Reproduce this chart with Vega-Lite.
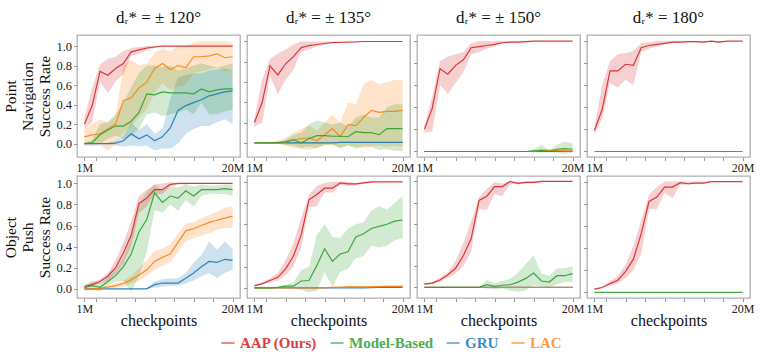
{
"$schema":"https://vega.github.io/schema/vega-lite/v6.json",
"background":"white",
"padding":{"left":3,"top":8,"right":5,"bottom":5},
"config":{
"font":"Liberation Serif",
"view":{"stroke":"#b0b0b0","strokeWidth":1.3},
"axis":{"domain":false,"grid":false,"tickColor":"#999999","tickSize":3.5,"labelFont":"Liberation Serif","labelColor":"#222222","titleFont":"Liberation Serif","titleFontWeight":"normal","titleColor":"#111111"},
"axisX":{"labelFontSize":12,"labelPadding":2},
"axisY":{"labelFontSize":12.5,"labelPadding":2},
"legend":{"labelFont":"Liberation Serif"},
"title":{"font":"Liberation Serif","fontSize":17,"fontWeight":"normal","color":"#111111","offset":8}
},
"data":{"name":"d"},
"datasets":{"d":[
{"p":1,"m":"G","x":1,"y":0,"l":-0.005,"h":0.005},{"p":1,"m":"G","x":2,"y":0,"l":-0.005,"h":0.005},{"p":1,"m":"G","x":3,"y":0,"l":-0.005,"h":0.005},{"p":1,"m":"G","x":4,"y":0,"l":-0.01,"h":0.01},{"p":1,"m":"G","x":5,"y":0.005,"l":-0.02,"h":0.03},{"p":1,"m":"G","x":6,"y":0.03,"l":-0.03,"h":0.08},{"p":1,"m":"G","x":7,"y":0.1,"l":-0.02,"h":0.22},{"p":1,"m":"G","x":8,"y":0.05,"l":-0.03,"h":0.14},{"p":1,"m":"G","x":9,"y":0.09,"l":-0.02,"h":0.2},{"p":1,"m":"G","x":10,"y":0.03,"l":-0.07,"h":0.1},{"p":1,"m":"G","x":11,"y":0.07,"l":-0.05,"h":0.15},{"p":1,"m":"G","x":12,"y":0.16,"l":-0.05,"h":0.45},{"p":1,"m":"G","x":13,"y":0.34,"l":0,"h":0.68},{"p":1,"m":"G","x":14,"y":0.39,"l":0.1,"h":0.7},{"p":1,"m":"G","x":15,"y":0.42,"l":0.15,"h":0.72},{"p":1,"m":"G","x":16,"y":0.45,"l":0.18,"h":0.72},{"p":1,"m":"G","x":17,"y":0.49,"l":0.18,"h":0.75},{"p":1,"m":"G","x":18,"y":0.51,"l":0.22,"h":0.76},{"p":1,"m":"G","x":19,"y":0.53,"l":0.25,"h":0.77},{"p":1,"m":"G","x":20,"y":0.54,"l":0.2,"h":0.75},
{"p":1,"m":"L","x":1,"y":0.07,"l":-0.02,"h":0.15},{"p":1,"m":"L","x":2,"y":0.09,"l":-0.03,"h":0.2},{"p":1,"m":"L","x":3,"y":0.1,"l":-0.02,"h":0.25},{"p":1,"m":"L","x":4,"y":0.15,"l":-0.07,"h":0.22},{"p":1,"m":"L","x":5,"y":0.2,"l":0,"h":0.28},{"p":1,"m":"L","x":6,"y":0.44,"l":0.12,"h":0.8},{"p":1,"m":"L","x":7,"y":0.47,"l":0.18,"h":0.86},{"p":1,"m":"L","x":8,"y":0.57,"l":0.27,"h":0.8},{"p":1,"m":"L","x":9,"y":0.63,"l":0.35,"h":0.82},{"p":1,"m":"L","x":10,"y":0.77,"l":0.52,"h":0.93},{"p":1,"m":"L","x":11,"y":0.82,"l":0.62,"h":0.97},{"p":1,"m":"L","x":12,"y":0.76,"l":0.55,"h":0.95},{"p":1,"m":"L","x":13,"y":0.8,"l":0.58,"h":0.99},{"p":1,"m":"L","x":14,"y":0.78,"l":0.6,"h":1.0},{"p":1,"m":"L","x":15,"y":0.89,"l":0.72,"h":1.04},{"p":1,"m":"L","x":16,"y":0.89,"l":0.74,"h":1.05},{"p":1,"m":"L","x":17,"y":0.9,"l":0.76,"h":1.05},{"p":1,"m":"L","x":18,"y":0.92,"l":0.78,"h":1.05},{"p":1,"m":"L","x":19,"y":0.88,"l":0.74,"h":1.05},{"p":1,"m":"L","x":20,"y":0.89,"l":0.75,"h":1.04},
{"p":1,"m":"M","x":1,"y":0,"l":-0.01,"h":0.01},{"p":1,"m":"M","x":2,"y":0.01,"l":-0.01,"h":0.04},{"p":1,"m":"M","x":3,"y":0.09,"l":0,"h":0.2},{"p":1,"m":"M","x":4,"y":0.14,"l":0.05,"h":0.22},{"p":1,"m":"M","x":5,"y":0.18,"l":0.08,"h":0.3},{"p":1,"m":"M","x":6,"y":0.18,"l":0.05,"h":0.42},{"p":1,"m":"M","x":7,"y":0.23,"l":0.08,"h":0.58},{"p":1,"m":"M","x":8,"y":0.32,"l":0.15,"h":0.72},{"p":1,"m":"M","x":9,"y":0.51,"l":0.3,"h":0.8},{"p":1,"m":"M","x":10,"y":0.5,"l":0.32,"h":0.8},{"p":1,"m":"M","x":11,"y":0.53,"l":0.28,"h":0.78},{"p":1,"m":"M","x":12,"y":0.52,"l":0.3,"h":0.8},{"p":1,"m":"M","x":13,"y":0.52,"l":0.32,"h":0.75},{"p":1,"m":"M","x":14,"y":0.52,"l":0.35,"h":0.77},{"p":1,"m":"M","x":15,"y":0.51,"l":0.3,"h":0.8},{"p":1,"m":"M","x":16,"y":0.56,"l":0.42,"h":0.82},{"p":1,"m":"M","x":17,"y":0.53,"l":0.3,"h":0.8},{"p":1,"m":"M","x":18,"y":0.55,"l":0.3,"h":0.78},{"p":1,"m":"M","x":19,"y":0.56,"l":0.33,"h":0.8},{"p":1,"m":"M","x":20,"y":0.56,"l":0.35,"h":0.82},
{"p":1,"m":"A","x":1,"y":0.2,"l":0.15,"h":0.27},{"p":1,"m":"A","x":2,"y":0.39,"l":0.22,"h":0.57},{"p":1,"m":"A","x":3,"y":0.74,"l":0.63,"h":0.81},{"p":1,"m":"A","x":4,"y":0.7,"l":0.52,"h":0.87},{"p":1,"m":"A","x":5,"y":0.77,"l":0.64,"h":0.89},{"p":1,"m":"A","x":6,"y":0.82,"l":0.71,"h":0.95},{"p":1,"m":"A","x":7,"y":0.94,"l":0.9,"h":0.98},{"p":1,"m":"A","x":8,"y":0.96,"l":0.92,"h":0.99},{"p":1,"m":"A","x":9,"y":0.98,"l":0.96,"h":1},{"p":1,"m":"A","x":10,"y":0.99,"l":0.98,"h":1},{"p":1,"m":"A","x":11,"y":1,"l":0.99,"h":1},{"p":1,"m":"A","x":12,"y":1,"l":0.995,"h":1},{"p":1,"m":"A","x":13,"y":1,"l":0.995,"h":1},{"p":1,"m":"A","x":14,"y":1,"l":1,"h":1},{"p":1,"m":"A","x":15,"y":1,"l":1,"h":1},{"p":1,"m":"A","x":16,"y":1,"l":1,"h":1},{"p":1,"m":"A","x":17,"y":1,"l":1,"h":1},{"p":1,"m":"A","x":18,"y":1,"l":1,"h":1},{"p":1,"m":"A","x":19,"y":1,"l":1,"h":1},{"p":1,"m":"A","x":20,"y":1,"l":1,"h":1},

{"p":2,"m":"G","x":1,"y":0,"l":-0.005,"h":0.005},{"p":2,"m":"G","x":2,"y":0,"l":-0.005,"h":0.005},{"p":2,"m":"G","x":3,"y":0,"l":-0.005,"h":0.005},{"p":2,"m":"G","x":4,"y":0,"l":-0.005,"h":0.005},{"p":2,"m":"G","x":5,"y":0,"l":-0.005,"h":0.005},{"p":2,"m":"G","x":6,"y":0,"l":-0.005,"h":0.005},{"p":2,"m":"G","x":7,"y":0,"l":-0.005,"h":0.005},{"p":2,"m":"G","x":8,"y":0,"l":-0.005,"h":0.005},{"p":2,"m":"G","x":9,"y":0,"l":-0.005,"h":0.005},{"p":2,"m":"G","x":10,"y":0,"l":-0.005,"h":0.005},{"p":2,"m":"G","x":11,"y":0,"l":-0.005,"h":0.005},{"p":2,"m":"G","x":12,"y":0.005,"l":0,"h":0.01},{"p":2,"m":"G","x":13,"y":0.005,"l":0,"h":0.01},{"p":2,"m":"G","x":14,"y":0.005,"l":0,"h":0.01},{"p":2,"m":"G","x":15,"y":0.005,"l":0,"h":0.01},{"p":2,"m":"G","x":16,"y":0.005,"l":0,"h":0.01},{"p":2,"m":"G","x":17,"y":0.005,"l":0,"h":0.01},{"p":2,"m":"G","x":18,"y":0.005,"l":0,"h":0.01},{"p":2,"m":"G","x":19,"y":0.005,"l":0,"h":0.01},{"p":2,"m":"G","x":20,"y":0.005,"l":0,"h":0.01},
{"p":2,"m":"L","x":1,"y":0,"l":0,"h":0},{"p":2,"m":"L","x":2,"y":0,"l":0,"h":0.005},{"p":2,"m":"L","x":3,"y":0,"l":-0.005,"h":0.01},{"p":2,"m":"L","x":4,"y":0.005,"l":-0.01,"h":0.02},{"p":2,"m":"L","x":5,"y":0.01,"l":-0.03,"h":0.05},{"p":2,"m":"L","x":6,"y":0.03,"l":-0.05,"h":0.1},{"p":2,"m":"L","x":7,"y":0.04,"l":-0.06,"h":0.14},{"p":2,"m":"L","x":8,"y":0.05,"l":-0.07,"h":0.17},{"p":2,"m":"L","x":9,"y":0.02,"l":-0.05,"h":0.12},{"p":2,"m":"L","x":10,"y":0.08,"l":-0.03,"h":0.2},{"p":2,"m":"L","x":11,"y":0.14,"l":-0.02,"h":0.28},{"p":2,"m":"L","x":12,"y":0.06,"l":-0.05,"h":0.2},{"p":2,"m":"L","x":13,"y":0.18,"l":-0.03,"h":0.4},{"p":2,"m":"L","x":14,"y":0.17,"l":-0.04,"h":0.38},{"p":2,"m":"L","x":15,"y":0.25,"l":-0.05,"h":0.58},{"p":2,"m":"L","x":16,"y":0.32,"l":-0.04,"h":0.62},{"p":2,"m":"L","x":17,"y":0.3,"l":-0.03,"h":0.58},{"p":2,"m":"L","x":18,"y":0.31,"l":-0.04,"h":0.6},{"p":2,"m":"L","x":19,"y":0.31,"l":-0.03,"h":0.62},{"p":2,"m":"L","x":20,"y":0.32,"l":-0.04,"h":0.62},
{"p":2,"m":"M","x":1,"y":0,"l":0,"h":0},{"p":2,"m":"M","x":2,"y":0,"l":0,"h":0},{"p":2,"m":"M","x":3,"y":0,"l":0,"h":0},{"p":2,"m":"M","x":4,"y":0,"l":-0.005,"h":0.005},{"p":2,"m":"M","x":5,"y":0.01,"l":-0.02,"h":0.03},{"p":2,"m":"M","x":6,"y":0.03,"l":-0.03,"h":0.08},{"p":2,"m":"M","x":7,"y":0,"l":-0.05,"h":0.1},{"p":2,"m":"M","x":8,"y":0.04,"l":-0.04,"h":0.18},{"p":2,"m":"M","x":9,"y":0.07,"l":-0.05,"h":0.22},{"p":2,"m":"M","x":10,"y":0.07,"l":-0.02,"h":0.2},{"p":2,"m":"M","x":11,"y":0.065,"l":-0.02,"h":0.18},{"p":2,"m":"M","x":12,"y":0.065,"l":-0.05,"h":0.2},{"p":2,"m":"M","x":13,"y":0.06,"l":-0.02,"h":0.16},{"p":2,"m":"M","x":14,"y":0.11,"l":-0.06,"h":0.25},{"p":2,"m":"M","x":15,"y":0.1,"l":-0.03,"h":0.28},{"p":2,"m":"M","x":16,"y":0.1,"l":-0.04,"h":0.25},{"p":2,"m":"M","x":17,"y":0.08,"l":-0.07,"h":0.25},{"p":2,"m":"M","x":18,"y":0.14,"l":-0.06,"h":0.35},{"p":2,"m":"M","x":19,"y":0.14,"l":-0.08,"h":0.38},{"p":2,"m":"M","x":20,"y":0.14,"l":-0.08,"h":0.38},
{"p":2,"m":"A","x":1,"y":0.2,"l":0.16,"h":0.24},{"p":2,"m":"A","x":2,"y":0.4,"l":0.2,"h":0.62},{"p":2,"m":"A","x":3,"y":0.76,"l":0.66,"h":0.83},{"p":2,"m":"A","x":4,"y":0.67,"l":0.48,"h":0.88},{"p":2,"m":"A","x":5,"y":0.78,"l":0.62,"h":0.92},{"p":2,"m":"A","x":6,"y":0.85,"l":0.72,"h":0.97},{"p":2,"m":"A","x":7,"y":0.94,"l":0.9,"h":1},{"p":2,"m":"A","x":8,"y":0.96,"l":0.92,"h":1},{"p":2,"m":"A","x":9,"y":0.97,"l":0.95,"h":1},{"p":2,"m":"A","x":10,"y":0.98,"l":0.97,"h":1},{"p":2,"m":"A","x":11,"y":0.99,"l":0.98,"h":1},{"p":2,"m":"A","x":12,"y":0.99,"l":0.985,"h":1},{"p":2,"m":"A","x":13,"y":0.995,"l":0.99,"h":1},{"p":2,"m":"A","x":14,"y":0.995,"l":0.99,"h":1},{"p":2,"m":"A","x":15,"y":1,"l":1,"h":1},{"p":2,"m":"A","x":16,"y":1,"l":1,"h":1},{"p":2,"m":"A","x":17,"y":1,"l":1,"h":1},{"p":2,"m":"A","x":18,"y":1,"l":1,"h":1},{"p":2,"m":"A","x":19,"y":1,"l":1,"h":1},{"p":2,"m":"A","x":20,"y":1,"l":1,"h":1},

{"p":3,"m":"G","x":1,"y":0,"l":0,"h":0.003},{"p":3,"m":"G","x":2,"y":0,"l":0,"h":0.003},{"p":3,"m":"G","x":3,"y":0,"l":0,"h":0.003},{"p":3,"m":"G","x":4,"y":0,"l":0,"h":0.003},{"p":3,"m":"G","x":5,"y":0,"l":0,"h":0.003},{"p":3,"m":"G","x":6,"y":0,"l":0,"h":0.003},{"p":3,"m":"G","x":7,"y":0,"l":0,"h":0.003},{"p":3,"m":"G","x":8,"y":0,"l":0,"h":0.003},{"p":3,"m":"G","x":9,"y":0,"l":0,"h":0.003},{"p":3,"m":"G","x":10,"y":0,"l":0,"h":0.003},{"p":3,"m":"G","x":11,"y":0,"l":0,"h":0.003},{"p":3,"m":"G","x":12,"y":0,"l":0,"h":0.003},{"p":3,"m":"G","x":13,"y":0,"l":0,"h":0.003},{"p":3,"m":"G","x":14,"y":0,"l":0,"h":0.003},{"p":3,"m":"G","x":15,"y":0,"l":0,"h":0.003},{"p":3,"m":"G","x":16,"y":0,"l":0,"h":0.003},{"p":3,"m":"G","x":17,"y":0,"l":0,"h":0.003},{"p":3,"m":"G","x":18,"y":0,"l":0,"h":0.003},{"p":3,"m":"G","x":19,"y":0,"l":0,"h":0.003},{"p":3,"m":"G","x":20,"y":0,"l":0,"h":0.003},
{"p":3,"m":"L","x":1,"y":0,"l":0,"h":0.002},{"p":3,"m":"L","x":2,"y":0,"l":0,"h":0.002},{"p":3,"m":"L","x":3,"y":0,"l":0,"h":0.002},{"p":3,"m":"L","x":4,"y":0,"l":0,"h":0.002},{"p":3,"m":"L","x":5,"y":0,"l":0,"h":0.002},{"p":3,"m":"L","x":6,"y":0,"l":0,"h":0.002},{"p":3,"m":"L","x":7,"y":0,"l":0,"h":0.002},{"p":3,"m":"L","x":8,"y":0,"l":0,"h":0.002},{"p":3,"m":"L","x":9,"y":0,"l":0,"h":0.002},{"p":3,"m":"L","x":10,"y":0,"l":0,"h":0.002},{"p":3,"m":"L","x":11,"y":0,"l":0,"h":0.002},{"p":3,"m":"L","x":12,"y":0,"l":0,"h":0.002},{"p":3,"m":"L","x":13,"y":0,"l":0,"h":0.002},{"p":3,"m":"L","x":14,"y":0,"l":0,"h":0.002},{"p":3,"m":"L","x":15,"y":0,"l":0,"h":0.01},{"p":3,"m":"L","x":16,"y":0.01,"l":-0.005,"h":0.02},{"p":3,"m":"L","x":17,"y":0.01,"l":-0.005,"h":0.02},{"p":3,"m":"L","x":18,"y":0.01,"l":-0.005,"h":0.02},{"p":3,"m":"L","x":19,"y":0.005,"l":-0.005,"h":0.015},{"p":3,"m":"L","x":20,"y":0.005,"l":-0.005,"h":0.015},
{"p":3,"m":"M","x":1,"y":0,"l":0,"h":0},{"p":3,"m":"M","x":2,"y":0,"l":0,"h":0},{"p":3,"m":"M","x":3,"y":0,"l":0,"h":0},{"p":3,"m":"M","x":4,"y":0,"l":0,"h":0},{"p":3,"m":"M","x":5,"y":0,"l":0,"h":0},{"p":3,"m":"M","x":6,"y":0,"l":0,"h":0},{"p":3,"m":"M","x":7,"y":0,"l":0,"h":0},{"p":3,"m":"M","x":8,"y":0,"l":0,"h":0},{"p":3,"m":"M","x":9,"y":0,"l":0,"h":0},{"p":3,"m":"M","x":10,"y":0,"l":0,"h":0},{"p":3,"m":"M","x":11,"y":0,"l":0,"h":0},{"p":3,"m":"M","x":12,"y":0,"l":0,"h":0},{"p":3,"m":"M","x":13,"y":0,"l":0,"h":0},{"p":3,"m":"M","x":14,"y":0,"l":0,"h":0},{"p":3,"m":"M","x":15,"y":0.005,"l":-0.01,"h":0.02},{"p":3,"m":"M","x":16,"y":0.01,"l":-0.01,"h":0.06},{"p":3,"m":"M","x":17,"y":0,"l":-0.01,"h":0.01},{"p":3,"m":"M","x":18,"y":0.02,"l":-0.01,"h":0.06},{"p":3,"m":"M","x":19,"y":0.025,"l":-0.02,"h":0.09},{"p":3,"m":"M","x":20,"y":0.02,"l":-0.01,"h":0.07},
{"p":3,"m":"A","x":1,"y":0.2,"l":0.17,"h":0.23},{"p":3,"m":"A","x":2,"y":0.39,"l":0.18,"h":0.5},{"p":3,"m":"A","x":3,"y":0.75,"l":0.6,"h":0.82},{"p":3,"m":"A","x":4,"y":0.7,"l":0.52,"h":0.86},{"p":3,"m":"A","x":5,"y":0.78,"l":0.62,"h":0.88},{"p":3,"m":"A","x":6,"y":0.83,"l":0.72,"h":0.9},{"p":3,"m":"A","x":7,"y":0.94,"l":0.88,"h":0.98},{"p":3,"m":"A","x":8,"y":0.95,"l":0.9,"h":1},{"p":3,"m":"A","x":9,"y":0.96,"l":0.93,"h":1},{"p":3,"m":"A","x":10,"y":0.97,"l":0.95,"h":1},{"p":3,"m":"A","x":11,"y":0.985,"l":0.98,"h":1},{"p":3,"m":"A","x":12,"y":0.99,"l":0.985,"h":1},{"p":3,"m":"A","x":13,"y":0.99,"l":0.99,"h":1},{"p":3,"m":"A","x":14,"y":0.995,"l":0.99,"h":1},{"p":3,"m":"A","x":15,"y":1,"l":1,"h":1},{"p":3,"m":"A","x":16,"y":1,"l":0.995,"h":1},{"p":3,"m":"A","x":17,"y":1,"l":1,"h":1},{"p":3,"m":"A","x":18,"y":1,"l":1,"h":1},{"p":3,"m":"A","x":19,"y":1,"l":1,"h":1},{"p":3,"m":"A","x":20,"y":1,"l":1,"h":1},

{"p":4,"m":"M","x":1,"y":0,"l":0,"h":0},{"p":4,"m":"M","x":2,"y":0,"l":0,"h":0},{"p":4,"m":"M","x":3,"y":0,"l":0,"h":0},{"p":4,"m":"M","x":4,"y":0,"l":0,"h":0},{"p":4,"m":"M","x":5,"y":0,"l":0,"h":0},{"p":4,"m":"M","x":6,"y":0,"l":0,"h":0},{"p":4,"m":"M","x":7,"y":0,"l":0,"h":0},{"p":4,"m":"M","x":8,"y":0,"l":0,"h":0},{"p":4,"m":"M","x":9,"y":0,"l":0,"h":0},{"p":4,"m":"M","x":10,"y":0,"l":0,"h":0},{"p":4,"m":"M","x":11,"y":0,"l":0,"h":0},{"p":4,"m":"M","x":12,"y":0,"l":0,"h":0},{"p":4,"m":"M","x":13,"y":0,"l":0,"h":0},{"p":4,"m":"M","x":14,"y":0,"l":0,"h":0},{"p":4,"m":"M","x":15,"y":0,"l":0,"h":0},{"p":4,"m":"M","x":16,"y":0,"l":0,"h":0},{"p":4,"m":"M","x":17,"y":0,"l":0,"h":0},{"p":4,"m":"M","x":18,"y":0,"l":0,"h":0},{"p":4,"m":"M","x":19,"y":0,"l":0,"h":0},{"p":4,"m":"M","x":20,"y":0,"l":0,"h":0},
{"p":4,"m":"A","x":1,"y":0.19,"l":0.15,"h":0.22},{"p":4,"m":"A","x":2,"y":0.38,"l":0.3,"h":0.6},{"p":4,"m":"A","x":3,"y":0.73,"l":0.62,"h":0.82},{"p":4,"m":"A","x":4,"y":0.73,"l":0.58,"h":0.88},{"p":4,"m":"A","x":5,"y":0.79,"l":0.65,"h":0.89},{"p":4,"m":"A","x":6,"y":0.78,"l":0.6,"h":0.91},{"p":4,"m":"A","x":7,"y":0.94,"l":0.9,"h":0.98},{"p":4,"m":"A","x":8,"y":0.96,"l":0.93,"h":0.99},{"p":4,"m":"A","x":9,"y":0.97,"l":0.95,"h":1},{"p":4,"m":"A","x":10,"y":0.98,"l":0.97,"h":1},{"p":4,"m":"A","x":11,"y":0.99,"l":0.98,"h":1},{"p":4,"m":"A","x":12,"y":0.99,"l":0.99,"h":1},{"p":4,"m":"A","x":13,"y":0.995,"l":0.99,"h":1},{"p":4,"m":"A","x":14,"y":0.995,"l":0.99,"h":1},{"p":4,"m":"A","x":15,"y":0.99,"l":0.985,"h":1},{"p":4,"m":"A","x":16,"y":1,"l":0.995,"h":1},{"p":4,"m":"A","x":17,"y":0.99,"l":0.985,"h":1},{"p":4,"m":"A","x":18,"y":1,"l":1,"h":1},{"p":4,"m":"A","x":19,"y":1,"l":1,"h":1},{"p":4,"m":"A","x":20,"y":1,"l":1,"h":1},

{"p":5,"m":"G","x":1,"y":0,"l":0,"h":0},{"p":5,"m":"G","x":2,"y":0,"l":0,"h":0},{"p":5,"m":"G","x":3,"y":0,"l":0,"h":0},{"p":5,"m":"G","x":4,"y":0,"l":0,"h":0},{"p":5,"m":"G","x":5,"y":0,"l":0,"h":0},{"p":5,"m":"G","x":6,"y":0,"l":0,"h":0},{"p":5,"m":"G","x":7,"y":0,"l":0,"h":0},{"p":5,"m":"G","x":8,"y":0,"l":0,"h":0},{"p":5,"m":"G","x":9,"y":0,"l":0,"h":0.01},{"p":5,"m":"G","x":10,"y":0.04,"l":0.01,"h":0.07},{"p":5,"m":"G","x":11,"y":0.055,"l":0.02,"h":0.09},{"p":5,"m":"G","x":12,"y":0.055,"l":0.03,"h":0.1},{"p":5,"m":"G","x":13,"y":0.055,"l":0.03,"h":0.1},{"p":5,"m":"G","x":14,"y":0.1,"l":0.05,"h":0.15},{"p":5,"m":"G","x":15,"y":0.15,"l":0.08,"h":0.25},{"p":5,"m":"G","x":16,"y":0.21,"l":0.12,"h":0.32},{"p":5,"m":"G","x":17,"y":0.26,"l":0.15,"h":0.45},{"p":5,"m":"G","x":18,"y":0.25,"l":0.1,"h":0.37},{"p":5,"m":"G","x":19,"y":0.28,"l":0.15,"h":0.45},{"p":5,"m":"G","x":20,"y":0.27,"l":0.18,"h":0.38},
{"p":5,"m":"L","x":1,"y":0,"l":0,"h":0.005},{"p":5,"m":"L","x":2,"y":0,"l":0,"h":0.005},{"p":5,"m":"L","x":3,"y":0.005,"l":0,"h":0.01},{"p":5,"m":"L","x":4,"y":0.016,"l":0.005,"h":0.03},{"p":5,"m":"L","x":5,"y":0.03,"l":0.01,"h":0.05},{"p":5,"m":"L","x":6,"y":0.05,"l":0.02,"h":0.08},{"p":5,"m":"L","x":7,"y":0.085,"l":0.05,"h":0.12},{"p":5,"m":"L","x":8,"y":0.13,"l":0.08,"h":0.2},{"p":5,"m":"L","x":9,"y":0.18,"l":0.12,"h":0.27},{"p":5,"m":"L","x":10,"y":0.26,"l":0.18,"h":0.36},{"p":5,"m":"L","x":11,"y":0.3,"l":0.22,"h":0.38},{"p":5,"m":"L","x":12,"y":0.33,"l":0.25,"h":0.42},{"p":5,"m":"L","x":13,"y":0.44,"l":0.35,"h":0.52},{"p":5,"m":"L","x":14,"y":0.55,"l":0.45,"h":0.62},{"p":5,"m":"L","x":15,"y":0.57,"l":0.48,"h":0.63},{"p":5,"m":"L","x":16,"y":0.6,"l":0.5,"h":0.67},{"p":5,"m":"L","x":17,"y":0.63,"l":0.53,"h":0.7},{"p":5,"m":"L","x":18,"y":0.65,"l":0.56,"h":0.73},{"p":5,"m":"L","x":19,"y":0.67,"l":0.58,"h":0.77},{"p":5,"m":"L","x":20,"y":0.69,"l":0.58,"h":0.78},
{"p":5,"m":"M","x":1,"y":0.01,"l":-0.02,"h":0.03},{"p":5,"m":"M","x":2,"y":0.03,"l":-0.01,"h":0.08},{"p":5,"m":"M","x":3,"y":0.015,"l":-0.02,"h":0.05},{"p":5,"m":"M","x":4,"y":0.07,"l":0.03,"h":0.11},{"p":5,"m":"M","x":5,"y":0.125,"l":0.07,"h":0.18},{"p":5,"m":"M","x":6,"y":0.21,"l":0.08,"h":0.3},{"p":5,"m":"M","x":7,"y":0.33,"l":-0.03,"h":0.5},{"p":5,"m":"M","x":8,"y":0.54,"l":0.12,"h":0.8},{"p":5,"m":"M","x":9,"y":0.66,"l":0.35,"h":0.92},{"p":5,"m":"M","x":10,"y":0.91,"l":0.75,"h":0.99},{"p":5,"m":"M","x":11,"y":0.82,"l":0.72,"h":0.93},{"p":5,"m":"M","x":12,"y":0.88,"l":0.8,"h":0.97},{"p":5,"m":"M","x":13,"y":0.86,"l":0.74,"h":0.96},{"p":5,"m":"M","x":14,"y":0.93,"l":0.84,"h":0.99},{"p":5,"m":"M","x":15,"y":0.88,"l":0.78,"h":0.97},{"p":5,"m":"M","x":16,"y":0.94,"l":0.88,"h":0.99},{"p":5,"m":"M","x":17,"y":0.94,"l":0.9,"h":0.98},{"p":5,"m":"M","x":18,"y":0.94,"l":0.9,"h":0.98},{"p":5,"m":"M","x":19,"y":0.95,"l":0.9,"h":0.99},{"p":5,"m":"M","x":20,"y":0.94,"l":0.88,"h":0.99},
{"p":5,"m":"A","x":1,"y":0.022,"l":0.015,"h":0.035},{"p":5,"m":"A","x":2,"y":0.04,"l":0.03,"h":0.06},{"p":5,"m":"A","x":3,"y":0.07,"l":0.05,"h":0.09},{"p":5,"m":"A","x":4,"y":0.12,"l":0.08,"h":0.15},{"p":5,"m":"A","x":5,"y":0.2,"l":0.14,"h":0.27},{"p":5,"m":"A","x":6,"y":0.34,"l":0.24,"h":0.44},{"p":5,"m":"A","x":7,"y":0.51,"l":0.4,"h":0.64},{"p":5,"m":"A","x":8,"y":0.81,"l":0.72,"h":0.88},{"p":5,"m":"A","x":9,"y":0.86,"l":0.78,"h":0.94},{"p":5,"m":"A","x":10,"y":0.94,"l":0.9,"h":0.99},{"p":5,"m":"A","x":11,"y":0.94,"l":0.9,"h":1},{"p":5,"m":"A","x":12,"y":0.99,"l":0.97,"h":1.01},{"p":5,"m":"A","x":13,"y":1,"l":0.99,"h":1},{"p":5,"m":"A","x":14,"y":1,"l":0.99,"h":1},{"p":5,"m":"A","x":15,"y":1,"l":1,"h":1},{"p":5,"m":"A","x":16,"y":1,"l":1,"h":1},{"p":5,"m":"A","x":17,"y":1,"l":1,"h":1},{"p":5,"m":"A","x":18,"y":1,"l":1,"h":1},{"p":5,"m":"A","x":19,"y":1,"l":1,"h":1},{"p":5,"m":"A","x":20,"y":1,"l":1,"h":1},

{"p":6,"m":"G","x":1,"y":0,"l":0,"h":0.003},{"p":6,"m":"G","x":2,"y":0,"l":0,"h":0.003},{"p":6,"m":"G","x":3,"y":0,"l":0,"h":0.003},{"p":6,"m":"G","x":4,"y":0,"l":0,"h":0.003},{"p":6,"m":"G","x":5,"y":0,"l":0,"h":0.003},{"p":6,"m":"G","x":6,"y":0,"l":0,"h":0.003},{"p":6,"m":"G","x":7,"y":0,"l":0,"h":0.003},{"p":6,"m":"G","x":8,"y":0,"l":0,"h":0.003},{"p":6,"m":"G","x":9,"y":0,"l":0,"h":0.003},{"p":6,"m":"G","x":10,"y":0,"l":0,"h":0.003},{"p":6,"m":"G","x":11,"y":0,"l":0,"h":0.003},{"p":6,"m":"G","x":12,"y":0,"l":0,"h":0.003},{"p":6,"m":"G","x":13,"y":0,"l":0,"h":0.003},{"p":6,"m":"G","x":14,"y":0,"l":0,"h":0.003},{"p":6,"m":"G","x":15,"y":0,"l":0,"h":0.003},{"p":6,"m":"G","x":16,"y":0.003,"l":0,"h":0.008},{"p":6,"m":"G","x":17,"y":0.005,"l":0,"h":0.01},{"p":6,"m":"G","x":18,"y":0.005,"l":0,"h":0.01},{"p":6,"m":"G","x":19,"y":0.005,"l":0,"h":0.01},{"p":6,"m":"G","x":20,"y":0.005,"l":0,"h":0.01},
{"p":6,"m":"L","x":1,"y":0,"l":0,"h":0.003},{"p":6,"m":"L","x":2,"y":0,"l":0,"h":0.003},{"p":6,"m":"L","x":3,"y":0,"l":0,"h":0.003},{"p":6,"m":"L","x":4,"y":0,"l":0,"h":0.003},{"p":6,"m":"L","x":5,"y":0,"l":0,"h":0.003},{"p":6,"m":"L","x":6,"y":0,"l":0,"h":0.003},{"p":6,"m":"L","x":7,"y":0,"l":0,"h":0.003},{"p":6,"m":"L","x":8,"y":0,"l":0,"h":0.003},{"p":6,"m":"L","x":9,"y":0,"l":0,"h":0.003},{"p":6,"m":"L","x":10,"y":0,"l":0,"h":0.003},{"p":6,"m":"L","x":11,"y":0.005,"l":0,"h":0.015},{"p":6,"m":"L","x":12,"y":0.005,"l":0,"h":0.015},{"p":6,"m":"L","x":13,"y":0.01,"l":0.005,"h":0.02},{"p":6,"m":"L","x":14,"y":0.01,"l":0.005,"h":0.02},{"p":6,"m":"L","x":15,"y":0.01,"l":0.005,"h":0.02},{"p":6,"m":"L","x":16,"y":0.01,"l":0.005,"h":0.02},{"p":6,"m":"L","x":17,"y":0.012,"l":0.007,"h":0.022},{"p":6,"m":"L","x":18,"y":0.015,"l":0.01,"h":0.025},{"p":6,"m":"L","x":19,"y":0.015,"l":0.01,"h":0.025},{"p":6,"m":"L","x":20,"y":0.015,"l":0.01,"h":0.025},
{"p":6,"m":"M","x":1,"y":0,"l":0,"h":0},{"p":6,"m":"M","x":2,"y":0,"l":0,"h":0},{"p":6,"m":"M","x":3,"y":0,"l":0,"h":0},{"p":6,"m":"M","x":4,"y":0.005,"l":0,"h":0.01},{"p":6,"m":"M","x":5,"y":0.016,"l":0,"h":0.03},{"p":6,"m":"M","x":6,"y":0.016,"l":0,"h":0.05},{"p":6,"m":"M","x":7,"y":0.065,"l":-0.02,"h":0.17},{"p":6,"m":"M","x":8,"y":0.07,"l":-0.04,"h":0.2},{"p":6,"m":"M","x":9,"y":0.21,"l":-0.03,"h":0.5},{"p":6,"m":"M","x":10,"y":0.37,"l":0.15,"h":0.6},{"p":6,"m":"M","x":11,"y":0.25,"l":0.01,"h":0.48},{"p":6,"m":"M","x":12,"y":0.32,"l":0.15,"h":0.47},{"p":6,"m":"M","x":13,"y":0.34,"l":0.18,"h":0.56},{"p":6,"m":"M","x":14,"y":0.48,"l":0.28,"h":0.6},{"p":6,"m":"M","x":15,"y":0.51,"l":0.3,"h":0.62},{"p":6,"m":"M","x":16,"y":0.56,"l":0.4,"h":0.73},{"p":6,"m":"M","x":17,"y":0.58,"l":0.38,"h":0.77},{"p":6,"m":"M","x":18,"y":0.6,"l":0.4,"h":0.74},{"p":6,"m":"M","x":19,"y":0.63,"l":0.45,"h":0.8},{"p":6,"m":"M","x":20,"y":0.64,"l":0.47,"h":0.87},
{"p":6,"m":"A","x":1,"y":0.02,"l":0.015,"h":0.03},{"p":6,"m":"A","x":2,"y":0.04,"l":0.03,"h":0.05},{"p":6,"m":"A","x":3,"y":0.07,"l":0.05,"h":0.09},{"p":6,"m":"A","x":4,"y":0.1,"l":0.07,"h":0.14},{"p":6,"m":"A","x":5,"y":0.18,"l":0.12,"h":0.26},{"p":6,"m":"A","x":6,"y":0.3,"l":0.2,"h":0.42},{"p":6,"m":"A","x":7,"y":0.5,"l":0.38,"h":0.66},{"p":6,"m":"A","x":8,"y":0.83,"l":0.76,"h":0.88},{"p":6,"m":"A","x":9,"y":0.88,"l":0.77,"h":0.96},{"p":6,"m":"A","x":10,"y":0.94,"l":0.9,"h":0.99},{"p":6,"m":"A","x":11,"y":0.94,"l":0.9,"h":1},{"p":6,"m":"A","x":12,"y":0.99,"l":0.97,"h":1},{"p":6,"m":"A","x":13,"y":0.98,"l":0.96,"h":1},{"p":6,"m":"A","x":14,"y":0.98,"l":0.97,"h":0.99},{"p":6,"m":"A","x":15,"y":0.99,"l":0.98,"h":1},{"p":6,"m":"A","x":16,"y":1,"l":0.99,"h":1},{"p":6,"m":"A","x":17,"y":1,"l":1,"h":1},{"p":6,"m":"A","x":18,"y":1,"l":1,"h":1},{"p":6,"m":"A","x":19,"y":1,"l":1,"h":1},{"p":6,"m":"A","x":20,"y":1,"l":1,"h":1},

{"p":7,"m":"G","x":1,"y":0,"l":0,"h":0},{"p":7,"m":"G","x":2,"y":0,"l":0,"h":0},{"p":7,"m":"G","x":3,"y":0,"l":0,"h":0},{"p":7,"m":"G","x":4,"y":0,"l":0,"h":0},{"p":7,"m":"G","x":5,"y":0,"l":0,"h":0},{"p":7,"m":"G","x":6,"y":0,"l":0,"h":0},{"p":7,"m":"G","x":7,"y":0,"l":0,"h":0},{"p":7,"m":"G","x":8,"y":0,"l":0,"h":0},{"p":7,"m":"G","x":9,"y":0,"l":0,"h":0},{"p":7,"m":"G","x":10,"y":0,"l":0,"h":0},{"p":7,"m":"G","x":11,"y":0,"l":0,"h":0},{"p":7,"m":"G","x":12,"y":0,"l":0,"h":0},{"p":7,"m":"G","x":13,"y":0,"l":0,"h":0},{"p":7,"m":"G","x":14,"y":0,"l":0,"h":0},{"p":7,"m":"G","x":15,"y":0,"l":0,"h":0},{"p":7,"m":"G","x":16,"y":0,"l":0,"h":0},{"p":7,"m":"G","x":17,"y":0,"l":0,"h":0},{"p":7,"m":"G","x":18,"y":0,"l":0,"h":0},{"p":7,"m":"G","x":19,"y":0,"l":0,"h":0},{"p":7,"m":"G","x":20,"y":0,"l":0,"h":0},
{"p":7,"m":"L","x":1,"y":0,"l":0,"h":0.004},{"p":7,"m":"L","x":2,"y":0,"l":0,"h":0.004},{"p":7,"m":"L","x":3,"y":0,"l":0,"h":0.004},{"p":7,"m":"L","x":4,"y":0,"l":0,"h":0.004},{"p":7,"m":"L","x":5,"y":0,"l":0,"h":0.004},{"p":7,"m":"L","x":6,"y":0,"l":0,"h":0.004},{"p":7,"m":"L","x":7,"y":0,"l":0,"h":0.004},{"p":7,"m":"L","x":8,"y":0,"l":0,"h":0.004},{"p":7,"m":"L","x":9,"y":0,"l":0,"h":0.004},{"p":7,"m":"L","x":10,"y":0,"l":0,"h":0.004},{"p":7,"m":"L","x":11,"y":0,"l":0,"h":0.004},{"p":7,"m":"L","x":12,"y":0,"l":0,"h":0.004},{"p":7,"m":"L","x":13,"y":0,"l":0,"h":0.004},{"p":7,"m":"L","x":14,"y":0,"l":0,"h":0.004},{"p":7,"m":"L","x":15,"y":0,"l":0,"h":0.004},{"p":7,"m":"L","x":16,"y":0,"l":0,"h":0.004},{"p":7,"m":"L","x":17,"y":0,"l":0,"h":0.004},{"p":7,"m":"L","x":18,"y":0,"l":0,"h":0.004},{"p":7,"m":"L","x":19,"y":0,"l":0,"h":0.004},{"p":7,"m":"L","x":20,"y":0,"l":0,"h":0.004},
{"p":7,"m":"M","x":1,"y":0,"l":0,"h":0},{"p":7,"m":"M","x":2,"y":0,"l":0,"h":0},{"p":7,"m":"M","x":3,"y":0,"l":0,"h":0},{"p":7,"m":"M","x":4,"y":0,"l":0,"h":0},{"p":7,"m":"M","x":5,"y":0,"l":0,"h":0},{"p":7,"m":"M","x":6,"y":0,"l":0,"h":0},{"p":7,"m":"M","x":7,"y":0,"l":0,"h":0},{"p":7,"m":"M","x":8,"y":0,"l":0,"h":0},{"p":7,"m":"M","x":9,"y":0.025,"l":-0.01,"h":0.07},{"p":7,"m":"M","x":10,"y":0.01,"l":-0.02,"h":0.04},{"p":7,"m":"M","x":11,"y":0.02,"l":-0.01,"h":0.06},{"p":7,"m":"M","x":12,"y":0.025,"l":-0.03,"h":0.08},{"p":7,"m":"M","x":13,"y":0.05,"l":-0.04,"h":0.14},{"p":7,"m":"M","x":14,"y":0.085,"l":-0.03,"h":0.22},{"p":7,"m":"M","x":15,"y":0.135,"l":0.02,"h":0.3},{"p":7,"m":"M","x":16,"y":0.06,"l":0.01,"h":0.13},{"p":7,"m":"M","x":17,"y":0.05,"l":0,"h":0.11},{"p":7,"m":"M","x":18,"y":0.11,"l":0.03,"h":0.18},{"p":7,"m":"M","x":19,"y":0.11,"l":0.05,"h":0.18},{"p":7,"m":"M","x":20,"y":0.13,"l":0.05,"h":0.2},
{"p":7,"m":"A","x":1,"y":0.03,"l":0.02,"h":0.04},{"p":7,"m":"A","x":2,"y":0.04,"l":0.03,"h":0.05},{"p":7,"m":"A","x":3,"y":0.07,"l":0.05,"h":0.09},{"p":7,"m":"A","x":4,"y":0.12,"l":0.09,"h":0.14},{"p":7,"m":"A","x":5,"y":0.18,"l":0.13,"h":0.25},{"p":7,"m":"A","x":6,"y":0.3,"l":0.2,"h":0.42},{"p":7,"m":"A","x":7,"y":0.46,"l":0.34,"h":0.62},{"p":7,"m":"A","x":8,"y":0.82,"l":0.74,"h":0.85},{"p":7,"m":"A","x":9,"y":0.86,"l":0.73,"h":0.93},{"p":7,"m":"A","x":10,"y":0.95,"l":0.88,"h":0.99},{"p":7,"m":"A","x":11,"y":0.95,"l":0.86,"h":0.98},{"p":7,"m":"A","x":12,"y":1,"l":0.98,"h":1},{"p":7,"m":"A","x":13,"y":0.98,"l":0.97,"h":0.99},{"p":7,"m":"A","x":14,"y":0.99,"l":0.98,"h":1},{"p":7,"m":"A","x":15,"y":0.99,"l":0.98,"h":1},{"p":7,"m":"A","x":16,"y":1,"l":0.99,"h":1},{"p":7,"m":"A","x":17,"y":1,"l":1,"h":1},{"p":7,"m":"A","x":18,"y":1,"l":1,"h":1},{"p":7,"m":"A","x":19,"y":1,"l":1,"h":1},{"p":7,"m":"A","x":20,"y":1,"l":1,"h":1},

{"p":8,"m":"M","x":1,"y":0,"l":0,"h":0},{"p":8,"m":"M","x":2,"y":0,"l":0,"h":0},{"p":8,"m":"M","x":3,"y":0,"l":0,"h":0},{"p":8,"m":"M","x":4,"y":0,"l":0,"h":0},{"p":8,"m":"M","x":5,"y":0,"l":0,"h":0},{"p":8,"m":"M","x":6,"y":0,"l":0,"h":0},{"p":8,"m":"M","x":7,"y":0,"l":0,"h":0},{"p":8,"m":"M","x":8,"y":0,"l":0,"h":0},{"p":8,"m":"M","x":9,"y":0,"l":0,"h":0},{"p":8,"m":"M","x":10,"y":0,"l":0,"h":0},{"p":8,"m":"M","x":11,"y":0,"l":0,"h":0},{"p":8,"m":"M","x":12,"y":0,"l":0,"h":0},{"p":8,"m":"M","x":13,"y":0,"l":0,"h":0},{"p":8,"m":"M","x":14,"y":0,"l":0,"h":0},{"p":8,"m":"M","x":15,"y":0,"l":0,"h":0},{"p":8,"m":"M","x":16,"y":0,"l":0,"h":0},{"p":8,"m":"M","x":17,"y":0,"l":0,"h":0},{"p":8,"m":"M","x":18,"y":0,"l":0,"h":0},{"p":8,"m":"M","x":19,"y":0,"l":0,"h":0},{"p":8,"m":"M","x":20,"y":0,"l":0,"h":0},
{"p":8,"m":"A","x":1,"y":0.03,"l":0.025,"h":0.035},{"p":8,"m":"A","x":2,"y":0.045,"l":0.04,"h":0.05},{"p":8,"m":"A","x":3,"y":0.08,"l":0.06,"h":0.1},{"p":8,"m":"A","x":4,"y":0.11,"l":0.08,"h":0.15},{"p":8,"m":"A","x":5,"y":0.19,"l":0.13,"h":0.25},{"p":8,"m":"A","x":6,"y":0.3,"l":0.2,"h":0.42},{"p":8,"m":"A","x":7,"y":0.53,"l":0.35,"h":0.65},{"p":8,"m":"A","x":8,"y":0.82,"l":0.75,"h":0.88},{"p":8,"m":"A","x":9,"y":0.86,"l":0.75,"h":0.95},{"p":8,"m":"A","x":10,"y":0.95,"l":0.9,"h":1},{"p":8,"m":"A","x":11,"y":0.95,"l":0.85,"h":1},{"p":8,"m":"A","x":12,"y":0.99,"l":0.97,"h":1},{"p":8,"m":"A","x":13,"y":0.98,"l":0.97,"h":1},{"p":8,"m":"A","x":14,"y":0.985,"l":0.98,"h":1},{"p":8,"m":"A","x":15,"y":0.985,"l":0.98,"h":1},{"p":8,"m":"A","x":16,"y":1,"l":1,"h":1},{"p":8,"m":"A","x":17,"y":1,"l":1,"h":1},{"p":8,"m":"A","x":18,"y":1,"l":1,"h":1},{"p":8,"m":"A","x":19,"y":1,"l":1,"h":1},{"p":8,"m":"A","x":20,"y":1,"l":1,"h":1}
]},
"bounds":"flush",
"columns":4,
"spacing":{"row":19,"column":7},
"concat":[
{"width":163,"height":122,"title":{"text":"dᵣ* = ± 120°","font":"Liberation Serif"},"transform":[{"filter":"datum.p==1"}],
"encoding":{"x":{"field":"x","type":"quantitative","scale":{"domain":[0.05,20.95],"nice":false,"zero":false},"axis":{"values":[1,2.5,5,7.5,10,12.5,15,17.5,20],"labelExpr":"datum.value==1?'1M':datum.value==20?'20M':''","labelOverlap":false,"labelFont":"Liberation Serif","title":null}},
"color":{"field":"m","type":"nominal","scale":{"domain":["A","M","G","L"],"range":["#d62728","#2ca02c","#1f77b4","#ff7f0e"]},"legend":{"orient":"none","legendX":143,"legendY":300,"direction":"horizontal","title":null,"symbolType":"stroke","symbolStrokeWidth":2,"symbolSize":170,"symbolOpacity":0.55,"labelFont":"Liberation Serif","labelFontSize":15,"labelFontWeight":"bold","labelColor":{"expr":"datum.value=='A'?'#dd3e3f':datum.value=='M'?'#4cae4c':datum.value=='G'?'#3d8cc4':'#ff9a45'"},"labelExpr":"datum.value=='A'?'AAP (Ours)':datum.value=='M'?'Model-Based':datum.value=='G'?'GRU':'LAC'","columnPadding":8,"labelOffset":4}}},
"layer":[
{"mark":{"type":"area","opacity":0.22},"encoding":{"y":{"field":"l","type":"quantitative","scale":{"domain":[-0.137,1.113],"nice":false,"zero":false},"axis":{"values":[0,0.2,0.4,0.6,0.8,1],"format":".1f","labelFont":"Liberation Serif","title":["Point","Navigation","Success Rate"],"titleFont":"Liberation Serif","titleFontSize":15.5,"titleLineHeight":17,"titlePadding":3}},"y2":{"field":"h"}}},
{"mark":{"type":"line","strokeWidth":1.2,"opacity":0.9},"encoding":{"y":{"field":"y","type":"quantitative","scale":{"domain":[-0.137,1.113],"nice":false,"zero":false},"axis":{"values":[0,0.2,0.4,0.6,0.8,1],"format":".1f","labelFont":"Liberation Serif","title":["Point","Navigation","Success Rate"],"titleFont":"Liberation Serif","titleFontSize":15.5,"titleLineHeight":17,"titlePadding":3}}}}
]},
{"width":163,"height":122,"title":{"text":"dᵣ* = ± 135°","font":"Liberation Serif"},"transform":[{"filter":"datum.p==2"}],
"encoding":{"x":{"field":"x","type":"quantitative","scale":{"domain":[0.05,20.95],"nice":false,"zero":false},"axis":{"values":[1,2.5,5,7.5,10,12.5,15,17.5,20],"labelExpr":"datum.value==1?'1M':datum.value==20?'20M':''","labelOverlap":false,"labelFont":"Liberation Serif","title":null}},
"color":{"field":"m","type":"nominal","scale":{"domain":["A","M","G","L"],"range":["#d62728","#2ca02c","#1f77b4","#ff7f0e"]},"legend":{"orient":"none","legendX":143,"legendY":300,"direction":"horizontal","title":null,"symbolType":"stroke","symbolStrokeWidth":2,"symbolSize":170,"symbolOpacity":0.55,"labelFont":"Liberation Serif","labelFontSize":15,"labelFontWeight":"bold","labelColor":{"expr":"datum.value=='A'?'#dd3e3f':datum.value=='M'?'#4cae4c':datum.value=='G'?'#3d8cc4':'#ff9a45'"},"labelExpr":"datum.value=='A'?'AAP (Ours)':datum.value=='M'?'Model-Based':datum.value=='G'?'GRU':'LAC'","columnPadding":8,"labelOffset":4}}},
"layer":[
{"mark":{"type":"area","opacity":0.22},"encoding":{"y":{"field":"l","type":"quantitative","scale":{"domain":[-0.14,1.064],"nice":false,"zero":false},"axis":{"values":[0,0.2,0.4,0.6,0.8,1],"labels":false,"title":null}},"y2":{"field":"h"}}},
{"mark":{"type":"line","strokeWidth":1.2,"opacity":0.9},"encoding":{"y":{"field":"y","type":"quantitative","scale":{"domain":[-0.14,1.064],"nice":false,"zero":false},"axis":{"values":[0,0.2,0.4,0.6,0.8,1],"labels":false,"title":null}}}}
]},
{"width":163,"height":122,"title":{"text":"dᵣ* = ± 150°","font":"Liberation Serif"},"transform":[{"filter":"datum.p==3"}],
"encoding":{"x":{"field":"x","type":"quantitative","scale":{"domain":[0.05,20.95],"nice":false,"zero":false},"axis":{"values":[1,2.5,5,7.5,10,12.5,15,17.5,20],"labelExpr":"datum.value==1?'1M':datum.value==20?'20M':''","labelOverlap":false,"labelFont":"Liberation Serif","title":null}},
"color":{"field":"m","type":"nominal","scale":{"domain":["A","M","G","L"],"range":["#d62728","#2ca02c","#1f77b4","#ff7f0e"]},"legend":{"orient":"none","legendX":143,"legendY":300,"direction":"horizontal","title":null,"symbolType":"stroke","symbolStrokeWidth":2,"symbolSize":170,"symbolOpacity":0.55,"labelFont":"Liberation Serif","labelFontSize":15,"labelFontWeight":"bold","labelColor":{"expr":"datum.value=='A'?'#dd3e3f':datum.value=='M'?'#4cae4c':datum.value=='G'?'#3d8cc4':'#ff9a45'"},"labelExpr":"datum.value=='A'?'AAP (Ours)':datum.value=='M'?'Model-Based':datum.value=='G'?'GRU':'LAC'","columnPadding":8,"labelOffset":4}}},
"layer":[
{"mark":{"type":"area","opacity":0.22},"encoding":{"y":{"field":"l","type":"quantitative","scale":{"domain":[-0.05,1.055],"nice":false,"zero":false},"axis":{"values":[0,0.2,0.4,0.6,0.8,1],"labels":false,"title":null}},"y2":{"field":"h"}}},
{"mark":{"type":"line","strokeWidth":1.2,"opacity":0.9},"encoding":{"y":{"field":"y","type":"quantitative","scale":{"domain":[-0.05,1.055],"nice":false,"zero":false},"axis":{"values":[0,0.2,0.4,0.6,0.8,1],"labels":false,"title":null}}}}
]},
{"width":163,"height":122,"title":{"text":"dᵣ* = 180°","font":"Liberation Serif"},"transform":[{"filter":"datum.p==4"}],
"encoding":{"x":{"field":"x","type":"quantitative","scale":{"domain":[0.05,20.95],"nice":false,"zero":false},"axis":{"values":[1,2.5,5,7.5,10,12.5,15,17.5,20],"labelExpr":"datum.value==1?'1M':datum.value==20?'20M':''","labelOverlap":false,"labelFont":"Liberation Serif","title":null}},
"color":{"field":"m","type":"nominal","scale":{"domain":["A","M","G","L"],"range":["#d62728","#2ca02c","#1f77b4","#ff7f0e"]},"legend":{"orient":"none","legendX":143,"legendY":300,"direction":"horizontal","title":null,"symbolType":"stroke","symbolStrokeWidth":2,"symbolSize":170,"symbolOpacity":0.55,"labelFont":"Liberation Serif","labelFontSize":15,"labelFontWeight":"bold","labelColor":{"expr":"datum.value=='A'?'#dd3e3f':datum.value=='M'?'#4cae4c':datum.value=='G'?'#3d8cc4':'#ff9a45'"},"labelExpr":"datum.value=='A'?'AAP (Ours)':datum.value=='M'?'Model-Based':datum.value=='G'?'GRU':'LAC'","columnPadding":8,"labelOffset":4}}},
"layer":[
{"mark":{"type":"area","opacity":0.22},"encoding":{"y":{"field":"l","type":"quantitative","scale":{"domain":[-0.05,1.055],"nice":false,"zero":false},"axis":{"values":[0,0.2,0.4,0.6,0.8,1],"labels":false,"title":null}},"y2":{"field":"h"}}},
{"mark":{"type":"line","strokeWidth":1.2,"opacity":0.9},"encoding":{"y":{"field":"y","type":"quantitative","scale":{"domain":[-0.05,1.055],"nice":false,"zero":false},"axis":{"values":[0,0.2,0.4,0.6,0.8,1],"labels":false,"title":null}}}}
]},
{"width":163,"height":122,"transform":[{"filter":"datum.p==5"}],
"encoding":{"x":{"field":"x","type":"quantitative","scale":{"domain":[0.05,20.95],"nice":false,"zero":false},"axis":{"values":[1,2.5,5,7.5,10,12.5,15,17.5,20],"labelExpr":"datum.value==1?'1M':datum.value==20?'20M':''","labelOverlap":false,"labelFont":"Liberation Serif","title":"checkpoints","titleFont":"Liberation Serif","titleFontSize":16,"titlePadding":-2}},
"color":{"field":"m","type":"nominal","scale":{"domain":["A","M","G","L"],"range":["#d62728","#2ca02c","#1f77b4","#ff7f0e"]},"legend":{"orient":"none","legendX":143,"legendY":300,"direction":"horizontal","title":null,"symbolType":"stroke","symbolStrokeWidth":2,"symbolSize":170,"symbolOpacity":0.55,"labelFont":"Liberation Serif","labelFontSize":15,"labelFontWeight":"bold","labelColor":{"expr":"datum.value=='A'?'#dd3e3f':datum.value=='M'?'#4cae4c':datum.value=='G'?'#3d8cc4':'#ff9a45'"},"labelExpr":"datum.value=='A'?'AAP (Ours)':datum.value=='M'?'Model-Based':datum.value=='G'?'GRU':'LAC'","columnPadding":8,"labelOffset":4}}},
"layer":[
{"mark":{"type":"area","opacity":0.22},"encoding":{"y":{"field":"l","type":"quantitative","scale":{"domain":[-0.087,1.07],"nice":false,"zero":false},"axis":{"values":[0,0.2,0.4,0.6,0.8,1],"format":".1f","labelFont":"Liberation Serif","title":["Object","Push","Success Rate"],"titleFont":"Liberation Serif","titleFontSize":15.5,"titleLineHeight":17,"titlePadding":3}},"y2":{"field":"h"}}},
{"mark":{"type":"line","strokeWidth":1.2,"opacity":0.9},"encoding":{"y":{"field":"y","type":"quantitative","scale":{"domain":[-0.087,1.07],"nice":false,"zero":false},"axis":{"values":[0,0.2,0.4,0.6,0.8,1],"format":".1f","labelFont":"Liberation Serif","title":["Object","Push","Success Rate"],"titleFont":"Liberation Serif","titleFontSize":15.5,"titleLineHeight":17,"titlePadding":3}}}}
]},
{"width":163,"height":122,"transform":[{"filter":"datum.p==6"}],
"encoding":{"x":{"field":"x","type":"quantitative","scale":{"domain":[0.05,20.95],"nice":false,"zero":false},"axis":{"values":[1,2.5,5,7.5,10,12.5,15,17.5,20],"labelExpr":"datum.value==1?'1M':datum.value==20?'20M':''","labelOverlap":false,"labelFont":"Liberation Serif","title":"checkpoints","titleFont":"Liberation Serif","titleFontSize":16,"titlePadding":-2}},
"color":{"field":"m","type":"nominal","scale":{"domain":["A","M","G","L"],"range":["#d62728","#2ca02c","#1f77b4","#ff7f0e"]},"legend":{"orient":"none","legendX":143,"legendY":300,"direction":"horizontal","title":null,"symbolType":"stroke","symbolStrokeWidth":2,"symbolSize":170,"symbolOpacity":0.55,"labelFont":"Liberation Serif","labelFontSize":15,"labelFontWeight":"bold","labelColor":{"expr":"datum.value=='A'?'#dd3e3f':datum.value=='M'?'#4cae4c':datum.value=='G'?'#3d8cc4':'#ff9a45'"},"labelExpr":"datum.value=='A'?'AAP (Ours)':datum.value=='M'?'Model-Based':datum.value=='G'?'GRU':'LAC'","columnPadding":8,"labelOffset":4}}},
"layer":[
{"mark":{"type":"area","opacity":0.22},"encoding":{"y":{"field":"l","type":"quantitative","scale":{"domain":[-0.095,1.055],"nice":false,"zero":false},"axis":{"values":[0,0.2,0.4,0.6,0.8,1],"labels":false,"title":null}},"y2":{"field":"h"}}},
{"mark":{"type":"line","strokeWidth":1.2,"opacity":0.9},"encoding":{"y":{"field":"y","type":"quantitative","scale":{"domain":[-0.095,1.055],"nice":false,"zero":false},"axis":{"values":[0,0.2,0.4,0.6,0.8,1],"labels":false,"title":null}}}}
]},
{"width":163,"height":122,"transform":[{"filter":"datum.p==7"}],
"encoding":{"x":{"field":"x","type":"quantitative","scale":{"domain":[0.05,20.95],"nice":false,"zero":false},"axis":{"values":[1,2.5,5,7.5,10,12.5,15,17.5,20],"labelExpr":"datum.value==1?'1M':datum.value==20?'20M':''","labelOverlap":false,"labelFont":"Liberation Serif","title":"checkpoints","titleFont":"Liberation Serif","titleFontSize":16,"titlePadding":-2}},
"color":{"field":"m","type":"nominal","scale":{"domain":["A","M","G","L"],"range":["#d62728","#2ca02c","#1f77b4","#ff7f0e"]},"legend":{"orient":"none","legendX":143,"legendY":300,"direction":"horizontal","title":null,"symbolType":"stroke","symbolStrokeWidth":2,"symbolSize":170,"symbolOpacity":0.55,"labelFont":"Liberation Serif","labelFontSize":15,"labelFontWeight":"bold","labelColor":{"expr":"datum.value=='A'?'#dd3e3f':datum.value=='M'?'#4cae4c':datum.value=='G'?'#3d8cc4':'#ff9a45'"},"labelExpr":"datum.value=='A'?'AAP (Ours)':datum.value=='M'?'Model-Based':datum.value=='G'?'GRU':'LAC'","columnPadding":8,"labelOffset":4}}},
"layer":[
{"mark":{"type":"area","opacity":0.22},"encoding":{"y":{"field":"l","type":"quantitative","scale":{"domain":[-0.1,1.05],"nice":false,"zero":false},"axis":{"values":[0,0.2,0.4,0.6,0.8,1],"labels":false,"title":null}},"y2":{"field":"h"}}},
{"mark":{"type":"line","strokeWidth":1.2,"opacity":0.9},"encoding":{"y":{"field":"y","type":"quantitative","scale":{"domain":[-0.1,1.05],"nice":false,"zero":false},"axis":{"values":[0,0.2,0.4,0.6,0.8,1],"labels":false,"title":null}}}}
]},
{"width":163,"height":122,"transform":[{"filter":"datum.p==8"}],
"encoding":{"x":{"field":"x","type":"quantitative","scale":{"domain":[0.05,20.95],"nice":false,"zero":false},"axis":{"values":[1,2.5,5,7.5,10,12.5,15,17.5,20],"labelExpr":"datum.value==1?'1M':datum.value==20?'20M':''","labelOverlap":false,"labelFont":"Liberation Serif","title":"checkpoints","titleFont":"Liberation Serif","titleFontSize":16,"titlePadding":-2}},
"color":{"field":"m","type":"nominal","scale":{"domain":["A","M","G","L"],"range":["#d62728","#2ca02c","#1f77b4","#ff7f0e"]},"legend":{"orient":"none","legendX":143,"legendY":300,"direction":"horizontal","title":null,"symbolType":"stroke","symbolStrokeWidth":2,"symbolSize":170,"symbolOpacity":0.55,"labelFont":"Liberation Serif","labelFontSize":15,"labelFontWeight":"bold","labelColor":{"expr":"datum.value=='A'?'#dd3e3f':datum.value=='M'?'#4cae4c':datum.value=='G'?'#3d8cc4':'#ff9a45'"},"labelExpr":"datum.value=='A'?'AAP (Ours)':datum.value=='M'?'Model-Based':datum.value=='G'?'GRU':'LAC'","columnPadding":8,"labelOffset":4}}},
"layer":[
{"mark":{"type":"area","opacity":0.22},"encoding":{"y":{"field":"l","type":"quantitative","scale":{"domain":[-0.05,1.05],"nice":false,"zero":false},"axis":{"values":[0,0.2,0.4,0.6,0.8,1],"labels":false,"title":null}},"y2":{"field":"h"}}},
{"mark":{"type":"line","strokeWidth":1.2,"opacity":0.9},"encoding":{"y":{"field":"y","type":"quantitative","scale":{"domain":[-0.05,1.05],"nice":false,"zero":false},"axis":{"values":[0,0.2,0.4,0.6,0.8,1],"labels":false,"title":null}}}}
]}
]
}
